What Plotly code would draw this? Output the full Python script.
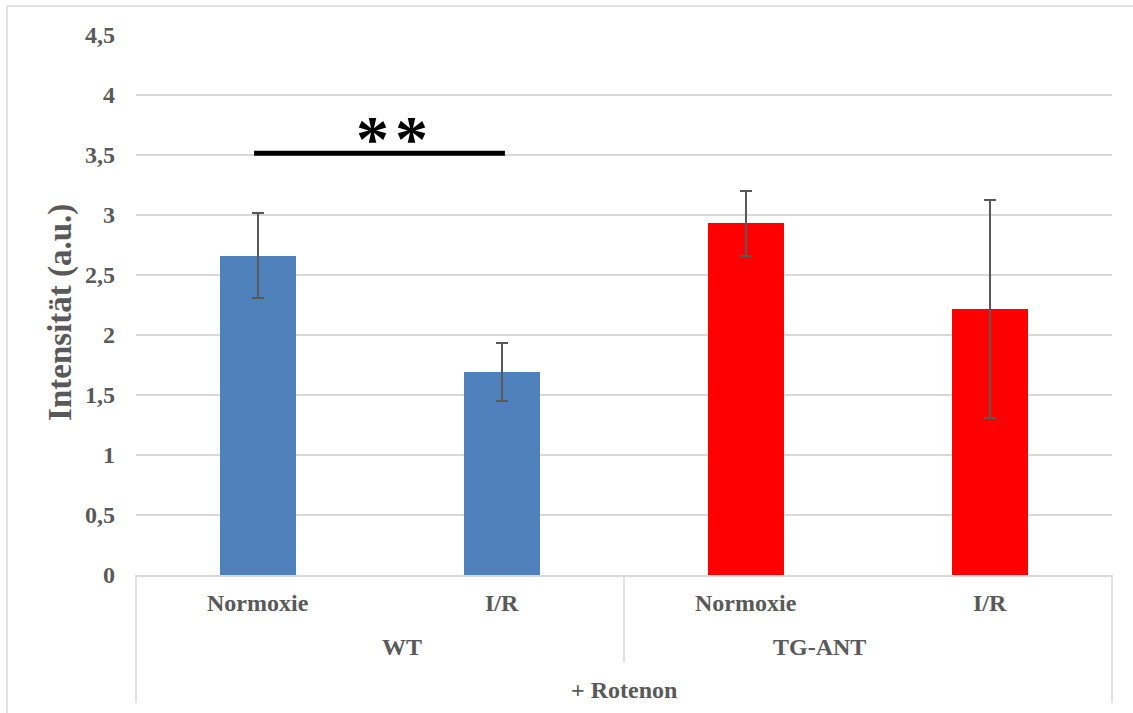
import plotly.graph_objects as go

# Data: intensity per condition (+ Rotenon)
conditions = ["Normoxie", "I/R", "Normoxie", "I/R"]
groups = ["WT", "TG-ANT"]
treatment = "+ Rotenon"
means = [2.66, 1.69, 2.93, 2.215]
errors = [0.355, 0.24, 0.27, 0.91]
colors = ["#4f81bd", "#4f81bd", "#ff0000", "#ff0000"]
y_ticks = [0, 0.5, 1, 1.5, 2, 2.5, 3, 3.5, 4, 4.5]
sig_pair = (0, 1)
sig_label = "*"
sig_level = 3.515

FONT = "Liberation Serif"
GRAY = "#595959"
LINE = "#d9d9d9"

x_pos = list(range(len(means)))

fig = go.Figure()
fig.add_trace(go.Bar(
    x=x_pos, y=means, width=0.315,
    marker=dict(color=colors, line=dict(width=0)),
    error_y=dict(type="data", array=errors, visible=True,
                 color=GRAY, thickness=2, width=6),
    showlegend=False,
))

annotations = []
# first-level category labels
for xi, lab in zip(x_pos, conditions):
    annotations.append(dict(x=xi, y=-0.052, xref="x", yref="paper", text=lab,
                            showarrow=False, yanchor="middle",
                            font=dict(family=FONT, size=24, color=GRAY, weight="bold")))
# group labels
for gi, g in enumerate(groups):
    annotations.append(dict(x=0.25 + 0.5 * gi, y=-0.133, xref="paper", yref="paper", text=g,
                            showarrow=False, yanchor="middle",
                            font=dict(family=FONT, size=24, color=GRAY, weight="bold")))
annotations.append(dict(x=0.5, y=-0.213, xref="paper", yref="paper", text=treatment,
                        showarrow=False, yanchor="middle",
                        font=dict(family=FONT, size=24, color=GRAY, weight="bold")))
# y-axis title
annotations.append(dict(x=-0.078, y=0.487, xref="paper", yref="paper",
                        text="Intensität (a.u.)", textangle=-90, showarrow=False,
                        xanchor="center", yanchor="middle",
                        font=dict(family=FONT, size=33, color=GRAY, weight="bold")))
# significance stars
for sx in (0.47, 0.63):
    annotations.append(dict(x=sx, y=sig_level - 0.2, xref="x", yref="y",
                            text=sig_label, showarrow=False, yanchor="bottom",
                            font=dict(family=FONT, size=66, color="black", weight="bold")))

shapes = [
    # significance bar
    dict(type="line", xref="x", yref="y", x0=sig_pair[0] - 0.016, x1=sig_pair[1] + 0.012,
         y0=sig_level, y1=sig_level, line=dict(color="black", width=5)),
    # category frame below the axis
    dict(type="line", xref="paper", yref="paper", x0=0, x1=0, y0=0, y1=-0.237,
         line=dict(color=LINE, width=1.5)),
    dict(type="line", xref="paper", yref="paper", x0=0.5, x1=0.5, y0=0, y1=-0.161,
         line=dict(color=LINE, width=1.5)),
    dict(type="line", xref="paper", yref="paper", x0=1, x1=1, y0=0, y1=-0.237,
         line=dict(color=LINE, width=1.5)),
    # outer chart border
    dict(type="line", xref="paper", yref="paper", x0=-0.1322, x1=1.05, y0=1.0537, y1=1.0537,
         line=dict(color=LINE, width=1.5)),
    dict(type="line", xref="paper", yref="paper", x0=-0.1322, x1=-0.1322, y0=1.0537, y1=-0.3,
         line=dict(color=LINE, width=1.5)),
]

fig.update_layout(
    width=1133, height=713,
    margin=dict(l=136, r=21, t=35, b=138),
    paper_bgcolor="white", plot_bgcolor="white",
    separators=",.",
    bargap=0,
    annotations=annotations,
    shapes=shapes,
    xaxis=dict(range=[-0.5, 3.5], showticklabels=False, showgrid=False, zeroline=False,
               showline=True, linecolor=LINE, linewidth=1.5, ticks="", fixedrange=True),
    yaxis=dict(range=[0, 4.5], tickvals=y_ticks, showgrid=True, gridcolor=LINE, gridwidth=1.5,
               zeroline=False, showline=False, ticks="", ticklabelstandoff=20,
               tickfont=dict(family=FONT, size=24, color=GRAY, weight="bold")),
)

fig.write_html("out.html")
